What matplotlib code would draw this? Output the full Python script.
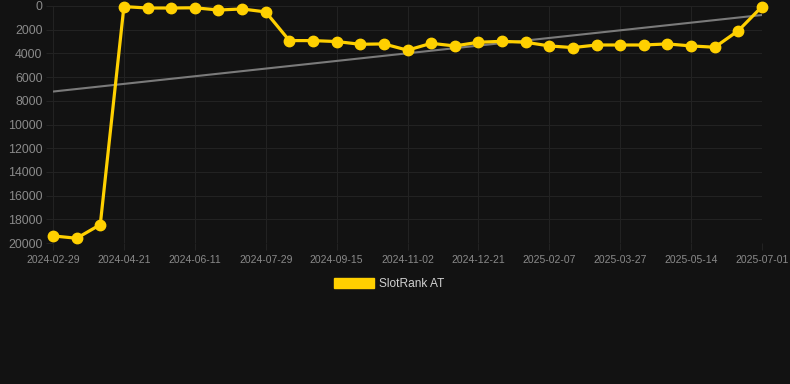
import numpy as np
import matplotlib
matplotlib.use('Agg')
import matplotlib.pyplot as plt
from matplotlib.patches import Patch

plt.rcParams['font.family'] = ['Liberation Sans', 'DejaVu Sans']

# rank values, one point per sample (labels on every third point)
tick_labels = ['2024-02-29', '2024-04-21', '2024-06-11', '2024-07-29', '2024-09-15',
               '2024-11-02', '2024-12-21', '2025-02-07', '2025-03-27', '2025-05-14',
               '2025-07-01']
rank = [19400, 19600, 18450, 50, 170, 170, 150, 340, 250, 500,
        2920, 2920, 3000, 3230, 3200, 3730, 3150, 3370, 3060, 2980,
        3060, 3370, 3510, 3290, 3290, 3290, 3200, 3370, 3480, 2080,
        50]
trend = [7220, 760]   # start / end of the grey trend line

BG = '#121212'
GOLD = '#ffd000'
GRID = '#222222'
TXT = '#8a8a8a'

fig = plt.figure(figsize=(7.9, 3.84), dpi=100, facecolor=BG)
ax = fig.add_axes([53/790, 1 - 243/384, (762 - 53)/790, (243 - 6)/384], facecolor=BG)

x = np.arange(len(rank))
ax.plot([x[0], x[-1]], trend, color='#7a7a7a', lw=1.5, zorder=2)
ax.plot(x, rank, color=GOLD, lw=2.3, marker='o', ms=7.5, zorder=3, clip_on=False)

ax.set_xlim(0, len(rank) - 1)
ax.set_ylim(20000, 0)
ax.set_yticks(np.arange(0, 20001, 2000))
ax.set_yticklabels([str(v) for v in range(0, 20001, 2000)])
ax.set_xticks(x[::3])
ax.set_xticklabels(tick_labels)

for s in ax.spines.values():
    s.set_visible(False)
ax.grid(True, color=GRID, lw=0.8)
ax.set_axisbelow(True)
ax.tick_params(axis='y', length=5, width=0.8, color=GRID, pad=2.5, labelsize=8.9, labelcolor=TXT)
ax.tick_params(axis='x', length=5, width=0.8, color=GRID, pad=3.5, labelsize=7.5, labelcolor=TXT)

leg = fig.legend(handles=[Patch(facecolor=GOLD, edgecolor=GOLD, label='SlotRank AT')],
                 loc='center', bbox_to_anchor=(389.5/790, 1 - 284/384), frameon=False,
                 handlelength=3.3, handleheight=0.9, handletextpad=0.45,
                 fontsize=8.6, labelcolor='#d0d0d0')

fig.savefig('out.png', dpi=100, facecolor=BG)
